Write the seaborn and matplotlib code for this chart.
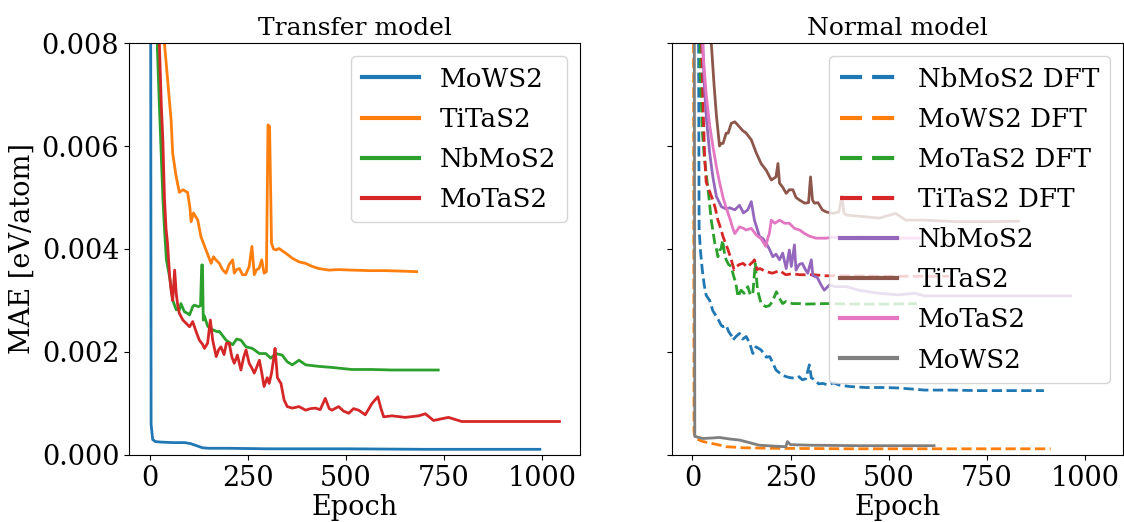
import matplotlib
matplotlib.use("Agg")
import matplotlib.pyplot as plt
import seaborn as sns

# ---------------- Transfer model data ----------------
t_mows2_ep = [0, 4, 8, 15, 30, 60, 90, 105, 120, 135,
              150, 200, 300, 500, 700, 900, 995]
t_mows2 = [0.030, 0.0006, 0.00030, 0.00026, 0.00025, 0.00024, 0.00024, 0.00022, 0.00018, 0.00014,
           0.00013, 0.00013, 0.00012, 0.00012, 0.00011, 0.00011, 0.00011]

t_titas2_ep = [0, 20, 30, 38, 46, 55, 59, 68, 76, 85,
               97, 103, 106, 112, 123, 131, 144, 157, 163, 169,
               178, 186, 195, 203, 212, 216, 222, 229, 237, 245,
               254, 261, 267, 273, 279, 286, 292, 298, 302, 306,
               311, 316, 322, 330, 347, 364, 381, 398, 415, 432,
               457, 482, 516, 559, 601, 643, 681]
t_titas2 = [0.06, 0.015, 0.0098, 0.0080, 0.0073, 0.0065, 0.00586, 0.0054, 0.0051, 0.00515,
            0.0051, 0.0048, 0.00453, 0.0047, 0.00456, 0.00424, 0.00398, 0.00372, 0.00385, 0.00379,
            0.00372, 0.0036, 0.00353, 0.0037, 0.00379, 0.00353, 0.0036, 0.00362, 0.0035, 0.0035,
            0.00366, 0.00405, 0.0035, 0.0036, 0.00362, 0.00379, 0.00353, 0.00356, 0.00641, 0.00638,
            0.00411, 0.0040, 0.00398, 0.00401, 0.00392, 0.00382, 0.00375, 0.00372, 0.00366, 0.00362,
            0.00359, 0.0036, 0.00359, 0.00358, 0.00358, 0.00357, 0.00356]

t_nbmos2_ep = [0, 15, 20, 25, 30, 34, 38, 43, 51, 59,
               68, 76, 80, 89, 97, 102, 110, 114, 125, 130,
               133, 135, 137, 140, 148, 161, 174, 178, 195, 212,
               222, 233, 246, 262, 280, 296, 309, 322, 338, 351,
               364, 381, 398, 432, 465, 516, 567, 618, 686, 736]
t_nbmos2 = [0.04, 0.0105, 0.0079, 0.0068, 0.0058, 0.0050, 0.0044, 0.00379, 0.00346, 0.00301,
            0.00282, 0.00282, 0.00294, 0.00278, 0.00275, 0.00272, 0.00288, 0.00291, 0.00288, 0.0029,
            0.00369, 0.00369, 0.00262, 0.00270, 0.00250, 0.00243, 0.00239, 0.0024, 0.00223, 0.00214,
            0.00225, 0.00223, 0.0021, 0.00207, 0.00197, 0.00197, 0.00188, 0.00197, 0.00194, 0.00181,
            0.00175, 0.00184, 0.00175, 0.00172, 0.0017, 0.00166, 0.00166, 0.00165, 0.00165, 0.00165]

t_motas2_ep = [0, 20, 25, 30, 34, 38, 42, 46, 51, 55,
               59, 64, 68, 72, 76, 85, 93, 102, 110, 119,
               127, 135, 140, 148, 155, 161, 170, 176, 182, 190,
               196, 203, 210, 216, 224, 233, 240, 246, 254, 260,
               267, 273, 280, 286, 292, 300, 305, 311, 317, 320,
               326, 335, 343, 351, 364, 381, 398, 410, 423, 435,
               448, 458, 465, 482, 495, 508, 520, 533, 550, 567,
               582, 590, 597, 618, 652, 686, 703, 724, 762, 796,
               855, 940, 1045]
t_motas2 = [0.04, 0.0105, 0.0080, 0.0068, 0.0061, 0.0050, 0.0044, 0.0041, 0.0035, 0.0032,
            0.0030, 0.00359, 0.00314, 0.0029, 0.00275, 0.00262, 0.00256, 0.00249, 0.00259, 0.00239,
            0.00223, 0.00215, 0.00207, 0.00217, 0.00262, 0.00223, 0.00191, 0.00204, 0.0021, 0.00195,
            0.00217, 0.00217, 0.0019, 0.00178, 0.00194, 0.00165, 0.0019, 0.00204, 0.00178, 0.0017,
            0.00159, 0.0017, 0.00184, 0.0016, 0.00133, 0.0015, 0.00139, 0.00159, 0.0019, 0.00207,
            0.0015, 0.00139, 0.00107, 0.00094, 0.00091, 0.00094, 0.00087, 0.0009, 0.00091, 0.00088,
            0.0011, 0.0009, 0.00087, 0.00094, 0.00085, 0.00081, 0.0009, 0.00087, 0.00078, 0.001,
            0.00113, 0.0009, 0.00074, 0.00076, 0.00073, 0.00076, 0.0008, 0.00067, 0.00073, 0.00065,
            0.00065, 0.00065, 0.00065]

# ---------------- Normal model data ----------------
n_nbmos2_dft_ep = [0, 17, 20, 25, 30, 35, 44, 52, 61, 68,
                   73, 78, 86, 92, 99, 103, 111, 120, 128, 137,
                   146, 154, 162, 175, 188, 197, 204, 213, 221, 230,
                   239, 250, 264, 272, 280, 289, 298, 303, 311, 322,
                   332, 345, 360, 373, 400, 441, 491, 527, 560, 592,
                   660, 727, 812, 896]
n_nbmos2_dft = [0.05, 0.0044, 0.0040, 0.0036, 0.0033, 0.0031, 0.0030, 0.0028, 0.00269, 0.0026,
                0.00252, 0.00249, 0.00252, 0.0024, 0.00232, 0.00223, 0.0023, 0.00236, 0.00225, 0.0023,
                0.00217, 0.00197, 0.0021, 0.00204, 0.0019, 0.00191, 0.0018, 0.00165, 0.0016, 0.00155,
                0.00152, 0.0015, 0.00149, 0.00152, 0.00146, 0.00148, 0.00175, 0.0015, 0.00146, 0.00138,
                0.00139, 0.00136, 0.0014, 0.00136, 0.00133, 0.00131, 0.00131, 0.0013, 0.00128, 0.00126,
                0.00126, 0.00125, 0.00125, 0.00125]

n_mows2_dft_ep = [0, 4, 8, 27, 52, 70, 86, 110, 128, 200, 400, 600, 800, 913]
n_mows2_dft = [0.03, 0.00045, 0.00032, 0.00026, 0.00022, 0.00019, 0.00016, 0.00015, 0.00014, 0.00013,
               0.00012, 0.00012, 0.00012, 0.00012]

n_motas2_dft_ep = [0, 20, 25, 30, 36, 42, 48, 57, 61, 65,
                   69, 73, 77, 82, 86, 92, 99, 104, 108, 112,
                   116, 124, 132, 141, 148, 154, 160, 166, 175, 187,
                   196, 204, 214, 221, 230, 238, 255, 273, 289, 339,
                   424, 508, 572]
n_motas2_dft = [0.05, 0.0075, 0.0063, 0.0058, 0.0054, 0.0050, 0.00456, 0.00411, 0.0040, 0.00385,
                0.00398, 0.0040, 0.00417, 0.0039, 0.00379, 0.0037, 0.00366, 0.0035, 0.0034, 0.00327,
                0.00307, 0.0032, 0.00314, 0.00327, 0.0031, 0.00314, 0.00372, 0.0032, 0.00294, 0.00288,
                0.0029, 0.00298, 0.00317, 0.00305, 0.00294, 0.00298, 0.00294, 0.00294, 0.00293, 0.00294,
                0.00293, 0.00293, 0.00294]

n_titas2_dft_ep = [0, 22, 27, 31, 35, 44, 52, 58, 65, 72,
                   78, 85, 91, 99, 106, 112, 120, 129, 140, 154,
                   158, 165, 172, 188, 204, 222, 238, 255, 273, 307,
                   340, 400, 480, 560, 654]
n_titas2_dft = [0.05, 0.0085, 0.0068, 0.0058, 0.0053, 0.00511, 0.00495, 0.0048, 0.00456, 0.0044,
                0.00424, 0.0041, 0.00398, 0.00379, 0.0036, 0.00366, 0.0037, 0.00372, 0.00365, 0.00375,
                0.00379, 0.0036, 0.00362, 0.00356, 0.00353, 0.00358, 0.0035, 0.00352, 0.0035, 0.0035,
                0.00348, 0.00348, 0.00347, 0.00347, 0.00347]

n_nbmos2_ep = [0, 24, 30, 36, 44, 52, 61, 74, 85, 95,
               108, 120, 130, 141, 150, 158, 171, 180, 188, 196,
               205, 213, 222, 230, 239, 247, 252, 260, 264, 272,
               280, 288, 294, 303, 307, 318, 328, 336, 349, 365,
               392, 424, 474, 525, 567, 592, 677, 761, 846, 964]
n_nbmos2 = [0.05, 0.0085, 0.0072, 0.0065, 0.00586, 0.0054, 0.00502, 0.00482, 0.00478, 0.0048,
            0.00476, 0.00485, 0.0047, 0.00476, 0.00492, 0.00456, 0.00424, 0.0042, 0.00411, 0.0040,
            0.00385, 0.0039, 0.00379, 0.00392, 0.00362, 0.00398, 0.00366, 0.00408, 0.00359, 0.0037,
            0.00372, 0.0036, 0.00353, 0.00379, 0.00348, 0.00345, 0.0033, 0.0032, 0.0033, 0.00327,
            0.00327, 0.0032, 0.00314, 0.00311, 0.00314, 0.00309, 0.00309, 0.00309, 0.00309, 0.00309]

n_titas2_ep = [0, 40, 48, 55, 61, 69, 73, 78, 86, 91,
               99, 108, 120, 128, 137, 150, 163, 175, 188, 201,
               213, 218, 222, 230, 239, 247, 256, 264, 273, 286,
               296, 301, 306, 311, 320, 331, 341, 358, 373, 381,
               386, 392, 434, 476, 518, 544, 592, 677, 761, 831]
n_titas2 = [0.06, 0.011, 0.0080, 0.0072, 0.0066, 0.0060, 0.00605, 0.00605, 0.00625, 0.00625,
            0.00644, 0.00647, 0.00637, 0.0063, 0.00625, 0.00612, 0.00586, 0.00566, 0.00553, 0.00534,
            0.0054, 0.00566, 0.00528, 0.0052, 0.00508, 0.00515, 0.00515, 0.0050, 0.00495, 0.00489,
            0.0049, 0.0054, 0.00495, 0.00489, 0.0049, 0.00476, 0.00472, 0.00469, 0.00472, 0.00502,
            0.0047, 0.00466, 0.00463, 0.0046, 0.00469, 0.00456, 0.00456, 0.00453, 0.00453, 0.00454]

n_motas2_ep = [0, 22, 27, 35, 44, 52, 61, 69, 78, 86,
               95, 103, 108, 120, 130, 137, 150, 163, 175, 187,
               192, 196, 201, 210, 222, 235, 247, 260, 273, 286,
               298, 315, 341, 356, 390, 424, 508, 578]
n_motas2 = [0.05, 0.0095, 0.0078, 0.0070, 0.0064, 0.0060, 0.0056, 0.0053, 0.0050, 0.0048,
            0.0046, 0.0044, 0.0043, 0.00443, 0.0044, 0.00437, 0.0044, 0.00427, 0.0042, 0.00405,
            0.00421, 0.0043, 0.00456, 0.0045, 0.00456, 0.0045, 0.0045, 0.0044, 0.00437, 0.0043,
            0.00425, 0.00421, 0.00421, 0.00423, 0.00421, 0.00423, 0.00421, 0.00421]

n_mows2_ep = [0, 6, 27, 50, 69, 95, 120, 145, 170, 213, 238, 242, 250, 300, 424, 616]
n_mows2 = [0.04, 0.00036, 0.00032, 0.00033, 0.00034, 0.00031, 0.00029, 0.00024, 0.00019, 0.00017,
           0.00016, 0.00026, 0.0002, 0.00019, 0.00018, 0.00018]

transfer_series = [("MoWS2", t_mows2_ep, t_mows2, "C0"),
                   ("TiTaS2", t_titas2_ep, t_titas2, "C1"),
                   ("NbMoS2", t_nbmos2_ep, t_nbmos2, "C2"),
                   ("MoTaS2", t_motas2_ep, t_motas2, "C3")]

normal_series = [("NbMoS2 DFT", n_nbmos2_dft_ep, n_nbmos2_dft, "C0", "--"),
                 ("MoWS2 DFT", n_mows2_dft_ep, n_mows2_dft, "C1", "--"),
                 ("MoTaS2 DFT", n_motas2_dft_ep, n_motas2_dft, "C2", "--"),
                 ("TiTaS2 DFT", n_titas2_dft_ep, n_titas2_dft, "C3", "--"),
                 ("NbMoS2", n_nbmos2_ep, n_nbmos2, "C4", "-"),
                 ("TiTaS2", n_titas2_ep, n_titas2, "C5", "-"),
                 ("MoTaS2", n_motas2_ep, n_motas2, "C6", "-"),
                 ("MoWS2", n_mows2_ep, n_mows2, "C7", "-")]

FS = 19.5
LFS = 18.8
plt.rcParams["font.family"] = ["DejaVu Serif"]
plt.rcParams["font.size"] = FS

fig, (ax1, ax2) = plt.subplots(1, 2, figsize=(11.24, 5.22), dpi=100, sharex=True, sharey=True)
fig.subplots_adjust(left=0.1148, right=0.999, top=0.9176, bottom=0.1284, wspace=0.204)

for label, ep, val, col in transfer_series:
    sns.lineplot(x=ep, y=val, ax=ax1, color=col, linewidth=2, label=label,
                 sort=False, estimator=None)

for label, ep, val, col, ls in normal_series:
    sns.lineplot(x=ep, y=val, ax=ax2, color=col, linewidth=2, linestyle=ls, label=label,
                 sort=False, estimator=None)

ax1.set_ylim(0, 0.008)
ax1.set_yticks([0, 0.002, 0.004, 0.006, 0.008])
ax1.set_xticks([0, 250, 500, 750, 1000])
ax1.set_title("Transfer model", fontsize=18)
ax2.set_title("Normal model", fontsize=18)
ax1.set_xlabel("Epoch", fontsize=FS, labelpad=2)
ax2.set_xlabel("Epoch", fontsize=FS, labelpad=2)
ax1.set_ylabel("MAE [eV/atom]", fontsize=FS)
ax2.set_ylabel("")
for ax in (ax1, ax2):
    ax.tick_params(labelsize=FS)

leg1 = ax1.legend(loc="upper right", fontsize=LFS, handlelength=2.2, labelspacing=0.58)
leg2 = ax2.legend(loc="upper right", fontsize=LFS, handlelength=2.2, labelspacing=0.58)
for leg in (leg1, leg2):
    for ln in leg.get_lines():
        ln.set_linewidth(3)
        if ln.get_linestyle() == "--":
            ln.set_linestyle((0, (5.3, 2.4)))

fig.savefig("out.png", dpi=100)
